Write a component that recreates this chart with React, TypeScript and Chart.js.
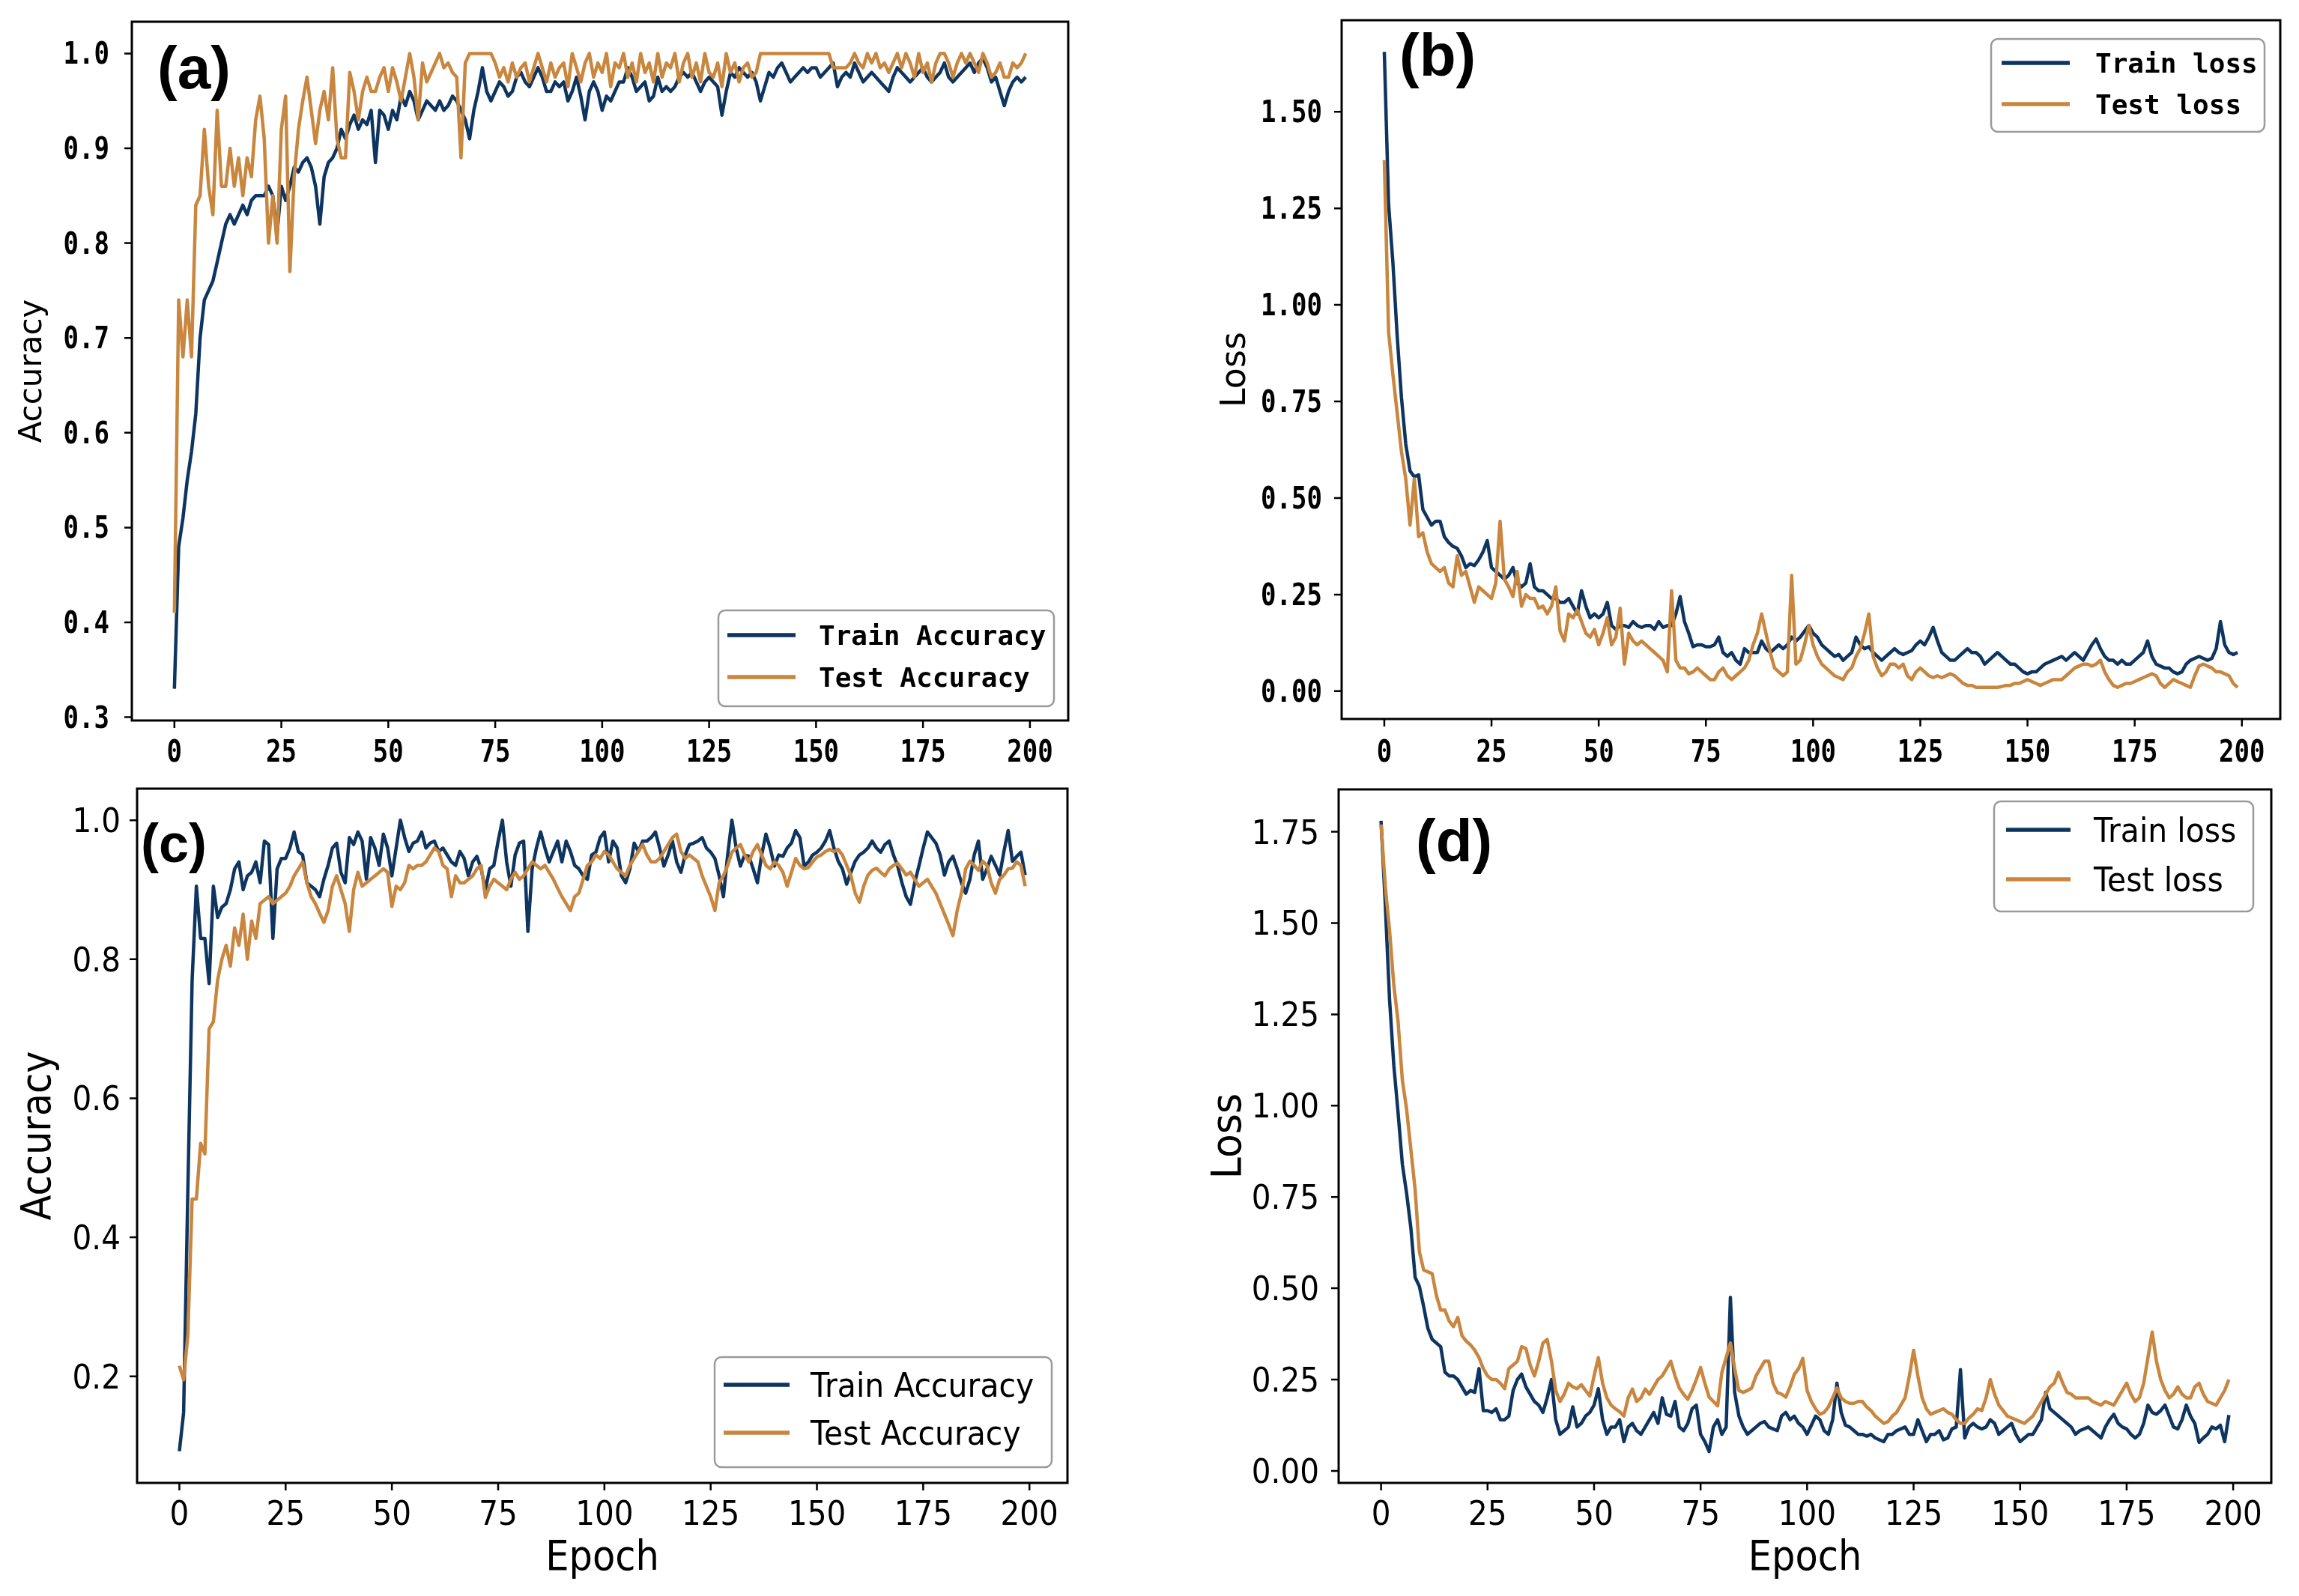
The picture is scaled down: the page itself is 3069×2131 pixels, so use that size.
import React, { useEffect, useRef } from "react";
import { Chart, registerables } from "chart.js";

Chart.register(...registerables);

const PAGE_W = 3069;
const PAGE_H = 2131;

// ---- tick values ----
const EPOCH_TICKS = [0, 25, 50, 75, 100, 125, 150, 175, 200];
const ACC_TICKS_A = [0.3, 0.4, 0.5, 0.6, 0.7, 0.8, 0.9, 1.0];
const LOSS_TICKS_B = [0, 0.25, 0.5, 0.75, 1.0, 1.25, 1.5];
const ACC_TICKS_C = [0.2, 0.4, 0.6, 0.8, 1.0];
const LOSS_TICKS_D = [0, 0.25, 0.5, 0.75, 1.0, 1.25, 1.5, 1.75];

// ---- (a) accuracy per epoch ----
const TRAIN_ACC_A = [
  0.33, 0.48, 0.51, 0.55, 0.58, 0.62, 0.70, 0.74, 0.75, 0.76,
  0.78, 0.80, 0.82, 0.83, 0.82, 0.83, 0.84, 0.83, 0.845, 0.85,
  0.85, 0.85, 0.86, 0.85, 0.81, 0.86, 0.845, 0.86, 0.88, 0.875,
  0.885, 0.89, 0.88, 0.86, 0.82, 0.87, 0.885, 0.89, 0.90, 0.92,
  0.91, 0.925, 0.935, 0.92, 0.93, 0.925, 0.94, 0.885, 0.94, 0.935,
  0.92, 0.94, 0.93, 0.955, 0.945, 0.96, 0.95, 0.93, 0.94, 0.95,
  0.945, 0.94, 0.95, 0.94, 0.945, 0.955, 0.95, 0.94, 0.93, 0.91,
  0.94, 0.96, 0.985, 0.96, 0.95, 0.96, 0.97, 0.965, 0.955, 0.96,
  0.975, 0.98, 0.97, 0.965, 0.975, 0.985, 0.975, 0.96, 0.96, 0.97,
  0.965, 0.97, 0.95, 0.96, 0.975, 0.955, 0.93, 0.96, 0.97, 0.96,
  0.94, 0.955, 0.95, 0.96, 0.97, 0.97, 0.985, 0.975, 0.96, 0.965,
  0.97, 0.95, 0.955, 0.975, 0.96, 0.965, 0.96, 0.965, 0.975, 0.98,
  0.975, 0.98, 0.97, 0.96, 0.97, 0.975, 0.97, 0.965, 0.935, 0.96,
  0.98, 0.975, 0.985, 0.98, 0.975, 0.98, 0.97, 0.95, 0.965, 0.98,
  0.975, 0.985, 0.99, 0.98, 0.97, 0.975, 0.98, 0.985, 0.98, 0.985,
  0.985, 0.975, 0.98, 0.985, 0.99, 0.965, 0.975, 0.98, 0.975, 0.99,
  0.98, 0.97, 0.975, 0.98, 0.975, 0.97, 0.965, 0.96, 0.975, 0.985,
  0.98, 0.975, 0.97, 0.975, 0.98, 0.985, 0.975, 0.97, 0.975, 0.98,
  0.99, 0.975, 0.97, 0.975, 0.98, 0.985, 0.99, 0.98, 0.99, 0.995,
  0.985, 0.97, 0.975, 0.96, 0.945, 0.96, 0.97, 0.975, 0.97, 0.975,
];
const TEST_ACC_A = [
  0.41, 0.74, 0.68, 0.74, 0.68, 0.84, 0.85, 0.92, 0.86, 0.83,
  0.94, 0.86, 0.86, 0.90, 0.86, 0.89, 0.85, 0.89, 0.87, 0.93,
  0.955, 0.91, 0.80, 0.85, 0.80, 0.92, 0.955, 0.77, 0.87, 0.92,
  0.95, 0.975, 0.94, 0.905, 0.94, 0.96, 0.93, 0.985, 0.91, 0.89,
  0.89, 0.98, 0.96, 0.93, 0.96, 0.975, 0.96, 0.96, 0.975, 0.985,
  0.96, 0.985, 0.97, 0.95, 0.975, 1.0, 0.975, 0.93, 0.99, 0.97,
  0.98, 0.99, 1.0, 0.985, 0.99, 0.98, 0.975, 0.89, 0.99, 1.0,
  1.0, 1.0, 1.0, 1.0, 1.0, 0.99, 0.975, 0.985, 0.97, 0.99,
  0.975, 0.985, 0.99, 0.97, 0.985, 1.0, 0.985, 0.97, 0.99, 0.975,
  0.985, 0.99, 0.965, 1.0, 0.985, 0.97, 0.99, 1.0, 0.975, 0.99,
  0.98, 1.0, 0.965, 0.99, 0.985, 1.0, 0.975, 0.99, 0.97, 1.0,
  0.98, 0.99, 0.97, 1.0, 0.975, 0.99, 0.985, 1.0, 0.97, 0.99,
  1.0, 0.975, 0.99, 0.97, 1.0, 0.98, 0.975, 0.99, 0.965, 1.0,
  0.98, 0.99, 0.97, 0.985, 0.99, 0.975, 0.98, 1.0, 1.0, 1.0,
  1.0, 1.0, 1.0, 1.0, 1.0, 1.0, 1.0, 1.0, 1.0, 1.0,
  1.0, 1.0, 1.0, 1.0, 0.985, 0.985, 0.985, 0.985, 0.99, 1.0,
  0.99, 0.985, 1.0, 0.99, 1.0, 0.985, 0.99, 0.98, 0.99, 1.0,
  0.985, 1.0, 0.99, 0.975, 1.0, 0.98, 0.99, 0.97, 0.99, 1.0,
  1.0, 0.99, 0.975, 0.99, 1.0, 0.99, 1.0, 0.99, 0.98, 1.0,
  0.99, 0.975, 0.98, 0.99, 0.975, 0.975, 0.99, 0.985, 0.99, 1.0,
];

// ---- (b) loss per epoch ----
const TRAIN_LOSS_B = [
  1.655, 1.26, 1.11, 0.92, 0.76, 0.64, 0.57, 0.555, 0.56, 0.47,
  0.45, 0.43, 0.44, 0.44, 0.40, 0.385, 0.375, 0.37, 0.35, 0.32,
  0.33, 0.325, 0.34, 0.36, 0.39, 0.32, 0.31, 0.30, 0.29, 0.30,
  0.32, 0.28, 0.27, 0.28, 0.33, 0.27, 0.26, 0.26, 0.25, 0.24,
  0.24, 0.23, 0.23, 0.24, 0.22, 0.20, 0.26, 0.22, 0.19, 0.20,
  0.19, 0.20, 0.23, 0.17, 0.16, 0.17, 0.17, 0.165, 0.18, 0.17,
  0.165, 0.17, 0.17, 0.16, 0.18, 0.165, 0.17, 0.17, 0.20, 0.245,
  0.18, 0.15, 0.115, 0.12, 0.12, 0.115, 0.115, 0.12, 0.14, 0.10,
  0.09, 0.10, 0.08, 0.07, 0.11, 0.10, 0.10, 0.10, 0.13, 0.11,
  0.10, 0.11, 0.12, 0.11, 0.12, 0.14, 0.13, 0.14, 0.155, 0.17,
  0.15, 0.14, 0.12, 0.11, 0.10, 0.09, 0.095, 0.08, 0.09, 0.10,
  0.14, 0.12, 0.11, 0.115, 0.10, 0.09, 0.08, 0.09, 0.10, 0.11,
  0.10, 0.095, 0.10, 0.105, 0.12, 0.13, 0.12, 0.14, 0.165, 0.13,
  0.10, 0.09, 0.08, 0.08, 0.09, 0.10, 0.11, 0.10, 0.10, 0.09,
  0.07, 0.08, 0.09, 0.10, 0.09, 0.08, 0.07, 0.07, 0.06, 0.05,
  0.045, 0.05, 0.05, 0.06, 0.07, 0.075, 0.08, 0.085, 0.09, 0.08,
  0.09, 0.10, 0.09, 0.08, 0.10, 0.12, 0.135, 0.11, 0.09, 0.08,
  0.08, 0.07, 0.08, 0.07, 0.07, 0.08, 0.09, 0.10, 0.13, 0.09,
  0.07, 0.065, 0.06, 0.06, 0.05, 0.045, 0.05, 0.07, 0.08, 0.085,
  0.09, 0.085, 0.08, 0.085, 0.11, 0.18, 0.12, 0.10, 0.095, 0.10,
];
const TEST_LOSS_B = [
  1.375, 0.93, 0.82, 0.72, 0.62, 0.55, 0.43, 0.55, 0.40, 0.41,
  0.36, 0.33, 0.32, 0.31, 0.32, 0.28, 0.27, 0.35, 0.30, 0.31,
  0.27, 0.23, 0.27, 0.26, 0.25, 0.24, 0.28, 0.44, 0.29, 0.27,
  0.245, 0.31, 0.22, 0.25, 0.24, 0.24, 0.215, 0.22, 0.20, 0.22,
  0.27, 0.155, 0.13, 0.20, 0.19, 0.21, 0.18, 0.15, 0.14, 0.16,
  0.12, 0.15, 0.19, 0.12, 0.14, 0.215, 0.07, 0.15, 0.13, 0.12,
  0.13, 0.12, 0.11, 0.10, 0.09, 0.08, 0.05, 0.26, 0.08, 0.06,
  0.06, 0.045, 0.05, 0.06, 0.05, 0.04, 0.03, 0.03, 0.05, 0.06,
  0.04, 0.03, 0.04, 0.05, 0.06, 0.08, 0.12, 0.15, 0.20, 0.15,
  0.10, 0.06, 0.05, 0.04, 0.05, 0.30, 0.07, 0.08, 0.12, 0.17,
  0.12, 0.09, 0.07, 0.06, 0.05, 0.04, 0.035, 0.03, 0.05, 0.06,
  0.09, 0.11, 0.15, 0.20, 0.09, 0.06, 0.04, 0.05, 0.07, 0.07,
  0.06, 0.07, 0.04, 0.03, 0.05, 0.06, 0.05, 0.04, 0.035, 0.04,
  0.035, 0.04, 0.045, 0.04, 0.03, 0.02, 0.015, 0.015, 0.01, 0.01,
  0.01, 0.01, 0.01, 0.01, 0.012, 0.015, 0.015, 0.02, 0.02, 0.025,
  0.03, 0.025, 0.02, 0.015, 0.02, 0.025, 0.03, 0.03, 0.03, 0.04,
  0.05, 0.06, 0.065, 0.07, 0.07, 0.065, 0.07, 0.08, 0.05, 0.03,
  0.015, 0.01, 0.015, 0.02, 0.02, 0.025, 0.03, 0.035, 0.04, 0.045,
  0.04, 0.02, 0.01, 0.02, 0.03, 0.025, 0.02, 0.015, 0.01, 0.04,
  0.065, 0.07, 0.065, 0.06, 0.05, 0.05, 0.045, 0.04, 0.02, 0.01,
];

// ---- (c) accuracy per epoch ----
const TRAIN_ACC_C = [
  0.092, 0.148, 0.47, 0.77, 0.905, 0.83, 0.83, 0.765, 0.905, 0.86,
  0.875, 0.88, 0.90, 0.93, 0.94, 0.90, 0.92, 0.925, 0.94, 0.91,
  0.97, 0.965, 0.83, 0.93, 0.945, 0.945, 0.96, 0.983, 0.955, 0.95,
  0.91, 0.905, 0.90, 0.89, 0.915, 0.935, 0.96, 0.967, 0.925, 0.91,
  0.975, 0.965, 0.983, 0.97, 0.915, 0.975, 0.96, 0.935, 0.98, 0.96,
  0.92, 0.96, 1.0, 0.975, 0.955, 0.967, 0.97, 0.983, 0.96, 0.967,
  0.97, 0.955, 0.96, 0.95, 0.94, 0.935, 0.955, 0.945, 0.92, 0.94,
  0.948, 0.93, 0.90, 0.93, 0.935, 0.97, 1.0, 0.94, 0.905, 0.95,
  0.967, 0.97, 0.84, 0.93, 0.96, 0.983, 0.96, 0.94, 0.955, 0.97,
  0.94, 0.97, 0.955, 0.935, 0.93, 0.92, 0.915, 0.95, 0.954, 0.975,
  0.983, 0.94, 0.97, 0.96, 0.92, 0.91, 0.93, 0.967, 0.955, 0.97,
  0.97, 0.975, 0.983, 0.96, 0.934, 0.95, 0.97, 0.94, 0.925, 0.95,
  0.965, 0.967, 0.97, 0.975, 0.96, 0.954, 0.945, 0.92, 0.89, 0.95,
  1.0, 0.96, 0.934, 0.95, 0.948, 0.93, 0.91, 0.95, 0.98, 0.96,
  0.934, 0.95, 0.948, 0.96, 0.967, 0.985, 0.975, 0.934, 0.94, 0.95,
  0.954, 0.96, 0.97, 0.985, 0.96, 0.941, 0.93, 0.908, 0.925, 0.941,
  0.95, 0.954, 0.96, 0.97, 0.96, 0.954, 0.965, 0.97, 0.95, 0.934,
  0.91, 0.89, 0.879, 0.91, 0.934, 0.96, 0.983, 0.975, 0.967, 0.95,
  0.921, 0.94, 0.948, 0.93, 0.91, 0.895, 0.915, 0.95, 0.97, 0.915,
  0.93, 0.948, 0.935, 0.921, 0.955, 0.985, 0.941, 0.948, 0.954, 0.921,
];
const TEST_ACC_C = [
  0.215, 0.195, 0.26, 0.455, 0.455, 0.535, 0.52, 0.70, 0.71, 0.77,
  0.80, 0.82, 0.79, 0.845, 0.82, 0.865, 0.80, 0.855, 0.83, 0.88,
  0.885, 0.89, 0.88, 0.885, 0.89, 0.895, 0.905, 0.92, 0.93, 0.94,
  0.91, 0.89, 0.88, 0.866, 0.853, 0.87, 0.905, 0.92, 0.90, 0.88,
  0.84, 0.90, 0.925, 0.905, 0.91, 0.915, 0.92, 0.925, 0.93, 0.925,
  0.876, 0.905, 0.90, 0.91, 0.935, 0.93, 0.935, 0.935, 0.94, 0.95,
  0.96, 0.955, 0.935, 0.93, 0.89, 0.92, 0.91, 0.91, 0.915, 0.92,
  0.93, 0.935, 0.889, 0.905, 0.915, 0.91, 0.905, 0.90, 0.915, 0.925,
  0.915, 0.92, 0.93, 0.94, 0.935, 0.93, 0.935, 0.925, 0.915, 0.902,
  0.89, 0.88, 0.87, 0.89, 0.895, 0.915, 0.935, 0.94, 0.95, 0.945,
  0.955, 0.95, 0.94, 0.93, 0.925, 0.92, 0.935, 0.945, 0.955, 0.965,
  0.95, 0.94, 0.94, 0.945, 0.955, 0.965, 0.975, 0.98, 0.955, 0.945,
  0.95, 0.945, 0.94, 0.92, 0.905, 0.89, 0.87, 0.91, 0.92, 0.935,
  0.954, 0.96, 0.965, 0.95, 0.94, 0.955, 0.965, 0.95, 0.935, 0.93,
  0.94, 0.935, 0.925, 0.905, 0.925, 0.945, 0.935, 0.93, 0.932, 0.94,
  0.947, 0.95, 0.955, 0.958, 0.955, 0.958, 0.95, 0.935, 0.92, 0.895,
  0.882, 0.905, 0.921, 0.928, 0.931, 0.925, 0.92, 0.93, 0.935, 0.938,
  0.93, 0.921, 0.925, 0.915, 0.905, 0.91, 0.915, 0.905, 0.895, 0.88,
  0.865, 0.85, 0.834, 0.87, 0.895, 0.93, 0.941, 0.935, 0.928, 0.941,
  0.935, 0.91, 0.895, 0.915, 0.921, 0.93, 0.931, 0.94, 0.935, 0.905,
];

// ---- (d) loss per epoch ----
const TRAIN_LOSS_D = [
  1.78, 1.55, 1.29, 1.11, 0.98, 0.84, 0.76, 0.665, 0.53, 0.505,
  0.45, 0.39, 0.36, 0.35, 0.34, 0.27, 0.26, 0.26, 0.25, 0.23,
  0.21, 0.22, 0.215, 0.28, 0.165, 0.165, 0.16, 0.17, 0.14, 0.14,
  0.15, 0.22, 0.25, 0.265, 0.23, 0.21, 0.19, 0.18, 0.16, 0.20,
  0.25, 0.14, 0.10, 0.11, 0.12, 0.175, 0.12, 0.13, 0.15, 0.16,
  0.18, 0.225, 0.14, 0.10, 0.12, 0.12, 0.14, 0.08, 0.12, 0.13,
  0.11, 0.10, 0.12, 0.14, 0.16, 0.13, 0.20, 0.155, 0.15, 0.19,
  0.12, 0.11, 0.13, 0.17, 0.18, 0.10, 0.08, 0.053, 0.12, 0.14,
  0.10, 0.12, 0.475, 0.215, 0.15, 0.12, 0.10, 0.11, 0.12, 0.13,
  0.135, 0.12, 0.115, 0.11, 0.15, 0.16, 0.14, 0.15, 0.13, 0.12,
  0.10, 0.125, 0.15, 0.14, 0.11, 0.10, 0.14, 0.24, 0.16, 0.125,
  0.12, 0.11, 0.10, 0.10, 0.095, 0.10, 0.09, 0.085, 0.08, 0.10,
  0.10, 0.11, 0.115, 0.12, 0.10, 0.10, 0.14, 0.11, 0.08, 0.10,
  0.10, 0.11, 0.085, 0.09, 0.115, 0.12, 0.277, 0.09, 0.12, 0.13,
  0.12, 0.115, 0.12, 0.14, 0.13, 0.10, 0.11, 0.12, 0.13, 0.10,
  0.08, 0.09, 0.10, 0.10, 0.12, 0.14, 0.215, 0.17, 0.16, 0.15,
  0.14, 0.13, 0.12, 0.10, 0.11, 0.115, 0.12, 0.11, 0.10, 0.09,
  0.12, 0.14, 0.155, 0.13, 0.12, 0.115, 0.10, 0.09, 0.10, 0.13,
  0.18, 0.16, 0.155, 0.165, 0.18, 0.15, 0.12, 0.115, 0.14, 0.18,
  0.15, 0.13, 0.078, 0.09, 0.10, 0.12, 0.115, 0.125, 0.08, 0.153,
];
const TEST_LOSS_D = [
  1.77, 1.60, 1.48, 1.33, 1.23, 1.07, 0.99, 0.88, 0.77, 0.60,
  0.55, 0.545, 0.54, 0.48, 0.44, 0.44, 0.41, 0.395, 0.42, 0.37,
  0.355, 0.345, 0.33, 0.31, 0.28, 0.26, 0.25, 0.25, 0.24, 0.225,
  0.28, 0.29, 0.30, 0.34, 0.335, 0.29, 0.26, 0.30, 0.35, 0.36,
  0.30, 0.22, 0.19, 0.21, 0.24, 0.23, 0.225, 0.236, 0.22, 0.205,
  0.26, 0.31, 0.24, 0.20, 0.18, 0.17, 0.162, 0.15, 0.20, 0.224,
  0.19, 0.20, 0.224, 0.21, 0.23, 0.25, 0.26, 0.28, 0.30, 0.26,
  0.227, 0.21, 0.196, 0.22, 0.25, 0.283, 0.24, 0.202, 0.19, 0.178,
  0.27, 0.31, 0.35, 0.28, 0.22, 0.215, 0.22, 0.227, 0.26, 0.28,
  0.30, 0.30, 0.24, 0.215, 0.21, 0.202, 0.23, 0.264, 0.28, 0.308,
  0.22, 0.19, 0.17, 0.155, 0.16, 0.175, 0.20, 0.227, 0.20, 0.19,
  0.185, 0.185, 0.19, 0.19, 0.175, 0.165, 0.15, 0.14, 0.13, 0.135,
  0.15, 0.16, 0.18, 0.20, 0.26, 0.33, 0.26, 0.20, 0.17, 0.155,
  0.16, 0.165, 0.17, 0.16, 0.155, 0.14, 0.13, 0.13, 0.145, 0.155,
  0.17, 0.165, 0.20, 0.25, 0.21, 0.18, 0.165, 0.15, 0.145, 0.14,
  0.135, 0.13, 0.14, 0.15, 0.17, 0.19, 0.21, 0.23, 0.24, 0.27,
  0.24, 0.215, 0.21, 0.20, 0.20, 0.20, 0.20, 0.19, 0.185, 0.18,
  0.19, 0.185, 0.18, 0.20, 0.22, 0.24, 0.21, 0.19, 0.20, 0.24,
  0.31, 0.38, 0.30, 0.25, 0.22, 0.20, 0.21, 0.23, 0.21, 0.20,
  0.20, 0.23, 0.24, 0.21, 0.19, 0.185, 0.18, 0.20, 0.22, 0.25,
];

const NAVY = "#0e3560";
const ORANGE = "#c8863e";
const TICK_LEN = 10;
const LINE_W = 4.5;

type Area = { l: number; t: number; r: number; b: number };
type LegendSpec = {
  x: number; y: number; w: number; h: number;
  rows: [number, number]; lineX1: number; lineX2: number; textX: number;
  font: string; sx: number; textDy: number;
};
type Panel = {
  key: string;
  letter: string; letterFont: string; letterX: number; letterY: number;
  train: number[]; test: number[];
  trainLabel: string; testLabel: string;
  yTitle: string; yTitleFont: string; yTitleSx: number; yTitleX: number;
  xTitle?: string; xTitleFont?: string; xTitleSx?: number; xTitleY?: number;
  yTicks: number[]; yDigits: number; yMin: number; yMax: number;
  tickFont: string; tickSx: number; yLabelGap: number; yLabelDy: number; xLabelBase: number;
  area: Area; legend: LegendSpec;
};

const MONO_TICK = "bold 40px 'DejaVu Sans Mono'";
const SANS_TICK = "45px 'DejaVu Sans'";
const MONO_LEGEND = "bold 36px 'DejaVu Sans Mono'";

const PANELS: Panel[] = [
  {
    key: "a", letter: "(a)", letterFont: "bold 80px 'Liberation Sans'", letterX: 210, letterY: 96,
    train: TRAIN_ACC_A, test: TEST_ACC_A, trainLabel: "Train Accuracy", testLabel: "Test Accuracy",
    yTitle: "Accuracy", yTitleFont: "42px 'DejaVu Sans'", yTitleSx: 1, yTitleX: 55,
    yTicks: ACC_TICKS_A, yDigits: 1, yMin: 0.2965, yMax: 1.0335,
    tickFont: MONO_TICK, tickSx: 0.85, yLabelGap: 30, yLabelDy: 14, xLabelBase: 1017,
    area: { l: 176, t: 29, r: 1426, b: 962 },
    legend: { x: 959, y: 815, w: 448, h: 128, rows: [848, 904], lineX1: 971, lineX2: 1062, textX: 1093,
      font: MONO_LEGEND, sx: 1, textDy: 13 },
  },
  {
    key: "b", letter: "(b)", letterFont: "bold 80px 'Liberation Sans'", letterX: 1868, letterY: 79,
    train: TRAIN_LOSS_B, test: TEST_LOSS_B, trainLabel: "Train loss", testLabel: "Test loss",
    yTitle: "Loss", yTitleFont: "46px 'DejaVu Sans'", yTitleSx: 1, yTitleX: 1662,
    yTicks: LOSS_TICKS_B, yDigits: 2, yMin: -0.072, yMax: 1.737,
    tickFont: MONO_TICK, tickSx: 0.85, yLabelGap: 26, yLabelDy: 14, xLabelBase: 1017,
    area: { l: 1791, t: 27, r: 3044, b: 960 },
    legend: { x: 2658, y: 52, w: 365, h: 124, rows: [84, 139], lineX1: 2672, lineX2: 2763, textX: 2797,
      font: MONO_LEGEND, sx: 1, textDy: 13 },
  },
  {
    key: "c", letter: "(c)", letterFont: "bold 72px 'Liberation Sans'", letterX: 188, letterY: 1131,
    train: TRAIN_ACC_C, test: TEST_ACC_C, trainLabel: "Train Accuracy", testLabel: "Test Accuracy",
    yTitle: "Accuracy", yTitleFont: "55px 'DejaVu Sans'", yTitleSx: 0.9, yTitleX: 67,
    xTitle: "Epoch", xTitleFont: "55px 'DejaVu Sans'", xTitleSx: 0.9, xTitleY: 2096,
    yTicks: ACC_TICKS_C, yDigits: 1, yMin: 0.0466, yMax: 1.0454,
    tickFont: SANS_TICK, tickSx: 0.9, yLabelGap: 22, yLabelDy: 16, xLabelBase: 2036,
    area: { l: 183, t: 1053, r: 1425, b: 1980 },
    legend: { x: 954, y: 1812, w: 450, h: 147, rows: [1849, 1913], lineX1: 966, lineX2: 1054, textX: 1082,
      font: "45px 'DejaVu Sans'", sx: 0.91, textDy: 16 },
  },
  {
    key: "d", letter: "(d)", letterFont: "bold 80px 'Liberation Sans'", letterX: 1890, letterY: 1128,
    train: TRAIN_LOSS_D, test: TEST_LOSS_D, trainLabel: "Train loss", testLabel: "Test loss",
    yTitle: "Loss", yTitleFont: "55px 'DejaVu Sans'", yTitleSx: 0.95, yTitleX: 1656,
    xTitle: "Epoch", xTitleFont: "55px 'DejaVu Sans'", xTitleSx: 0.9, xTitleY: 2096,
    yTicks: LOSS_TICKS_D, yDigits: 2, yMin: -0.033, yMax: 1.866,
    tickFont: SANS_TICK, tickSx: 0.9, yLabelGap: 26, yLabelDy: 16, xLabelBase: 2036,
    area: { l: 1787, t: 1054, r: 3032, b: 1980 },
    legend: { x: 2662, y: 1070, w: 346, h: 147, rows: [1108, 1174], lineX1: 2678, lineX2: 2764, textX: 2795,
      font: "45px 'DejaVu Sans'", sx: 0.91, textDy: 16 },
  },
];

function drawText(
  ctx: CanvasRenderingContext2D, s: string, x: number, y: number, font: string,
  align: CanvasTextAlign, sx = 1, rot = 0, baseline: CanvasTextBaseline = "alphabetic",
) {
  ctx.save();
  ctx.translate(x, y);
  if (rot) ctx.rotate(rot);
  ctx.scale(sx, 1);
  ctx.font = font;
  ctx.fillStyle = "#000";
  ctx.textAlign = align;
  ctx.textBaseline = baseline;
  ctx.fillText(s, 0, 0);
  ctx.restore();
}

function roundRect(ctx: CanvasRenderingContext2D, x: number, y: number, w: number, h: number, r: number) {
  ctx.beginPath();
  ctx.moveTo(x + r, y);
  ctx.lineTo(x + w - r, y);
  ctx.arcTo(x + w, y, x + w, y + r, r);
  ctx.lineTo(x + w, y + h - r);
  ctx.arcTo(x + w, y + h, x + w - r, y + h, r);
  ctx.lineTo(x + r, y + h);
  ctx.arcTo(x, y + h, x, y + h - r, r);
  ctx.lineTo(x, y + r);
  ctx.arcTo(x, y, x + r, y, r);
  ctx.closePath();
}

// Frame, ticks, labels, titles, panel letter and legend for one subplot
function decorPlugin(p: Panel) {
  return {
    id: "decor_" + p.key,
    afterDatasetsDraw(chart: any) {
      const ctx: CanvasRenderingContext2D = chart.ctx;
      const { left, top, right, bottom } = chart.chartArea;
      const xs = chart.scales.x;
      const ys = chart.scales.y;
      ctx.save();

      // tick marks
      ctx.strokeStyle = "#000";
      ctx.lineWidth = 2.5;
      ctx.beginPath();
      for (const v of EPOCH_TICKS) {
        const x = xs.getPixelForValue(v);
        ctx.moveTo(x, bottom);
        ctx.lineTo(x, bottom + TICK_LEN);
      }
      for (const v of p.yTicks) {
        const y = ys.getPixelForValue(v);
        ctx.moveTo(left, y);
        ctx.lineTo(left - TICK_LEN, y);
      }
      ctx.stroke();

      // frame
      ctx.lineWidth = 3;
      ctx.strokeRect(left, top, right - left, bottom - top);

      // tick labels
      for (const v of EPOCH_TICKS) {
        drawText(ctx, String(v), xs.getPixelForValue(v), p.xLabelBase, p.tickFont, "center", p.tickSx);
      }
      for (const v of p.yTicks) {
        drawText(ctx, v.toFixed(p.yDigits), left - p.yLabelGap, ys.getPixelForValue(v) + p.yLabelDy,
          p.tickFont, "right", p.tickSx);
      }

      // axis titles
      drawText(ctx, p.yTitle, p.yTitleX, (top + bottom) / 2, p.yTitleFont, "center", p.yTitleSx, -Math.PI / 2);
      if (p.xTitle) {
        drawText(ctx, p.xTitle, (left + right) / 2, p.xTitleY!, p.xTitleFont!, "center", p.xTitleSx);
      }

      // panel letter
      drawText(ctx, p.letter, p.letterX, p.letterY, p.letterFont, "left", 1, 0, "middle");

      // legend
      const lg = p.legend;
      roundRect(ctx, lg.x, lg.y, lg.w, lg.h, 9);
      ctx.fillStyle = "rgba(255,255,255,0.85)";
      ctx.fill();
      ctx.strokeStyle = "#9a9a9a";
      ctx.lineWidth = 2.5;
      ctx.stroke();
      const entries: [string, string][] = [[p.trainLabel, NAVY], [p.testLabel, ORANGE]];
      entries.forEach(([label, color], i) => {
        const y = lg.rows[i];
        ctx.strokeStyle = color;
        ctx.lineWidth = 5.5;
        ctx.beginPath();
        ctx.moveTo(lg.lineX1, y);
        ctx.lineTo(lg.lineX2, y);
        ctx.stroke();
        drawText(ctx, label, lg.textX, y + lg.textDy, lg.font, "left", lg.sx);
      });

      ctx.restore();
    },
  };
}

function PanelChart({ p }: { p: Panel }) {
  const ref = useRef<HTMLCanvasElement | null>(null);
  useEffect(() => {
    if (!ref.current) return;
    const a = p.area;
    const chart = new Chart(ref.current, {
      type: "line",
      data: {
        datasets: [
          {
            label: p.testLabel,
            data: p.test.map((v, i) => ({ x: i, y: v })),
            borderColor: ORANGE,
            borderWidth: LINE_W,
            pointRadius: 0,
            tension: 0,
            borderJoinStyle: "round",
            order: 1,
          },
          {
            label: p.trainLabel,
            data: p.train.map((v, i) => ({ x: i, y: v })),
            borderColor: NAVY,
            borderWidth: LINE_W,
            pointRadius: 0,
            tension: 0,
            borderJoinStyle: "round",
            order: 2,
          },
        ],
      },
      options: {
        responsive: false,
        animation: false,
        devicePixelRatio: 1,
        events: [],
        layout: { padding: { left: a.l, top: a.t, right: PAGE_W - a.r, bottom: PAGE_H - a.b } },
        scales: {
          x: { type: "linear", display: false, min: -9.95, max: 208.95 },
          y: { type: "linear", display: false, min: p.yMin, max: p.yMax },
        },
        plugins: { legend: { display: false }, tooltip: { enabled: false } },
      },
      plugins: [decorPlugin(p)],
    } as any);
    return () => chart.destroy();
  }, [p]);
  return (
    <canvas
      ref={ref}
      width={PAGE_W}
      height={PAGE_H}
      style={{ position: "absolute", left: 0, top: 0, width: PAGE_W, height: PAGE_H }}
    />
  );
}

export default function App() {
  return (
    <div
      style={{
        position: "fixed", left: 0, top: 0, width: PAGE_W, height: PAGE_H,
        background: "#ffffff", overflow: "hidden",
      }}
    >
      {PANELS.map((p) => (
        <PanelChart key={p.key} p={p} />
      ))}
    </div>
  );
}
